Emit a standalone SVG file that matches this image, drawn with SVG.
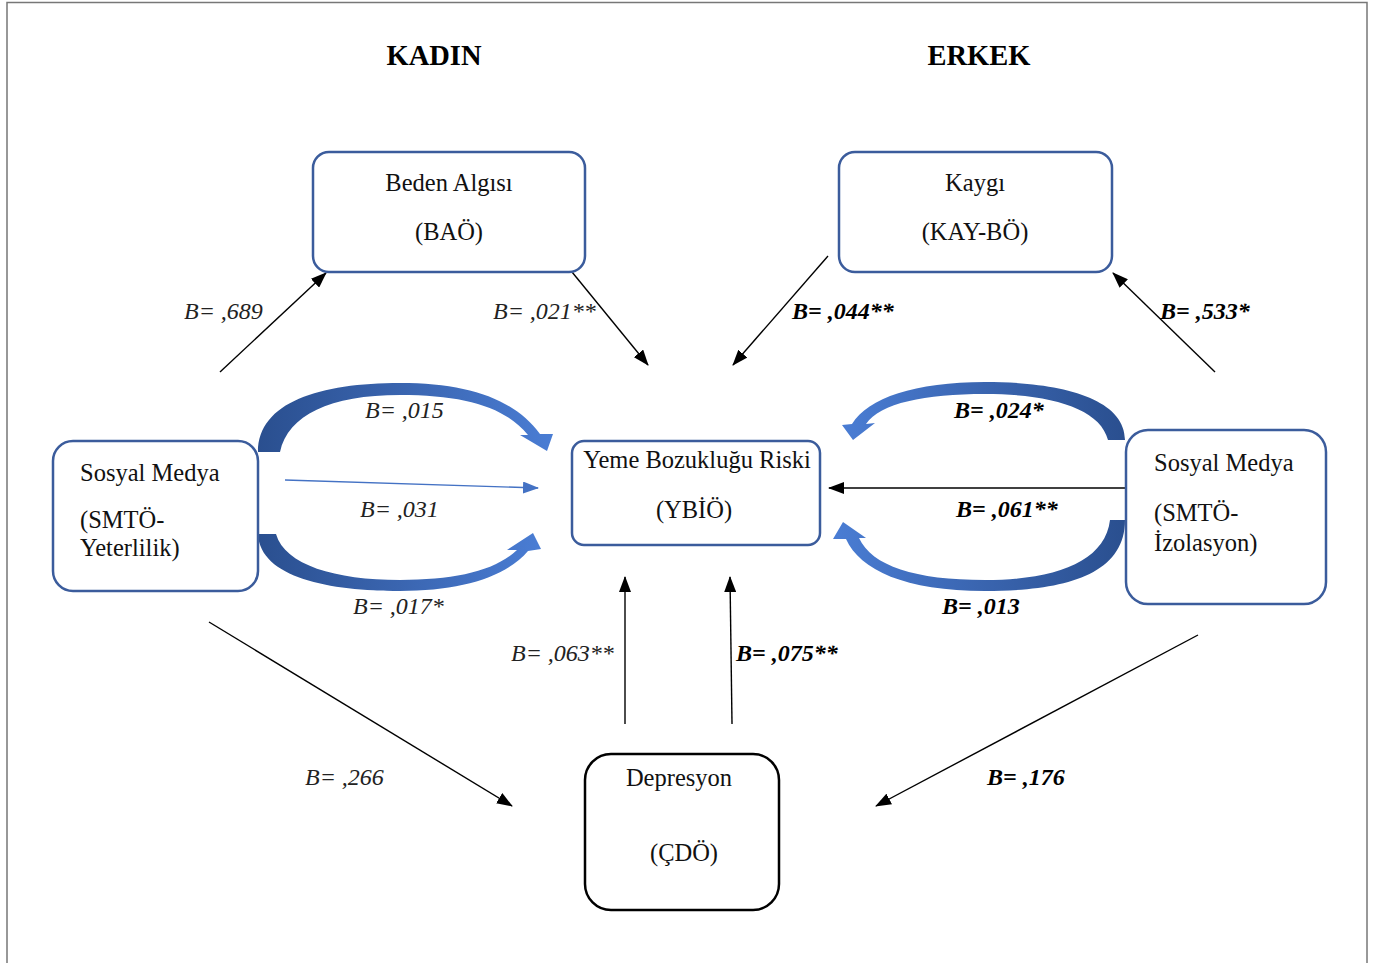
<svg xmlns="http://www.w3.org/2000/svg" width="1373" height="963" viewBox="0 0 1373 963">
<style>
.box{fill:#fff;stroke:#3B5C9C;stroke-width:2.5}
.dbox{fill:#fff;stroke:#000;stroke-width:2.5}
.t{font-family:"Liberation Serif",serif;font-size:24.5px;fill:#111}
.c{text-anchor:middle}
.lab{font-family:"Liberation Serif",serif;font-size:24px;font-style:italic;fill:#222}
.b{font-weight:bold;fill:#000}
.h{font-family:"Liberation Serif",serif;font-size:28.5px;font-weight:bold;fill:#000;text-anchor:middle}
.ln{stroke:#000;stroke-width:1.4;fill:none;marker-end:url(#ah)}
</style>
<defs>
<marker id="ah" markerUnits="userSpaceOnUse" markerWidth="16" markerHeight="12" refX="15" refY="6" orient="auto"><path d="M0,0 L16,6 L0,12 Z" fill="#000"/></marker>
<marker id="bh" markerUnits="userSpaceOnUse" markerWidth="16" markerHeight="12" refX="15" refY="6" orient="auto"><path d="M0,0 L16,6 L0,12 Z" fill="#4472C4"/></marker>
<linearGradient id="gL" x1="0" y1="0" x2="1" y2="0"><stop offset="0" stop-color="#2A4F8F"/><stop offset="0.5" stop-color="#3A65B0"/><stop offset="1" stop-color="#4A7DD4"/></linearGradient>
<linearGradient id="gR" x1="1" y1="0" x2="0" y2="0"><stop offset="0" stop-color="#2A4F8F"/><stop offset="0.5" stop-color="#3A65B0"/><stop offset="1" stop-color="#4A7DD4"/></linearGradient>
</defs>
<rect x="7" y="2.5" width="1360" height="970" fill="#fff" stroke="#777" stroke-width="1.5"/>
<text class="h" x="434" y="65">KADIN</text>
<text class="h" x="979" y="65">ERKEK</text>

<g id="connectors">
<line class="ln" x1="220" y1="372" x2="326" y2="273"/>
<line class="ln" x1="572" y1="272" x2="648" y2="365"/>
<line class="ln" x1="828" y1="256" x2="733" y2="365"/>
<line class="ln" x1="1215" y1="372" x2="1113" y2="273"/>
<line class="ln" x1="1126" y1="488" x2="829" y2="488"/>
<line class="ln" x1="625" y1="724" x2="625" y2="577"/>
<line class="ln" x1="732" y1="724" x2="730" y2="577"/>
<line class="ln" x1="209" y1="622" x2="512" y2="806"/>
<line class="ln" x1="1198" y1="635" x2="876" y2="806"/>
<line x1="285" y1="480" x2="538" y2="488" stroke="#4472C4" stroke-width="1.4" marker-end="url(#bh)"/>
<path fill="url(#gL)" d="M258,452 C 258,402 320,383 400,383 C 470,383 515,400 540,434 L 553,434 L 547,451 L 520,435 L 528,435 C 505,407 465,395 400,395 C 330,395 288,415 280,452 Z"/>
<path fill="url(#gL)" d="M258,534 C 260,578 330,591 400,591 C 460,591 505,578 528,551 L 541,549 L 533,533 L 507,550 L 517,550 C 495,571 455,580 400,580 C 335,580 285,565 276,534 Z"/>
<path fill="url(#gR)" d="M1125,440 C 1125,398 1060,382 985,382 C 915,382 868,398 852,424 L 842,425 L 853,440 L 875,423 L 866,424 C 880,403 925,394 985,394 C 1050,394 1100,408 1108,440 Z"/>
<path fill="url(#gR)" d="M1125,520 C 1125,577 1060,591 985,591 C 905,591 860,570 846,539 L 833,539 L 843,522 L 866,538 L 859,538 C 872,566 915,580 985,580 C 1055,580 1105,562 1110,520 Z"/>
</g>

<g id="labels">
<text class="lab" x="184" y="319">B= ,689</text>
<text class="lab" x="493" y="319">B= ,021**</text>
<text class="lab b" x="792" y="319">B= ,044**</text>
<text class="lab b" x="1160" y="319">B= ,533*</text>
<text class="lab" x="365" y="418">B= ,015</text>
<text class="lab" x="360" y="517">B= ,031</text>
<text class="lab" x="353" y="614">B= ,017*</text>
<text class="lab b" x="954" y="418">B= ,024*</text>
<text class="lab b" x="956" y="517">B= ,061**</text>
<text class="lab b" x="942" y="614">B= ,013</text>
<text class="lab" x="511" y="661">B= ,063**</text>
<text class="lab b" x="736" y="661">B= ,075**</text>
<text class="lab" x="305" y="785">B= ,266</text>
<text class="lab b" x="987" y="785">B= ,176</text>
</g>

<g id="beden">
<rect class="box" x="313" y="152" width="272" height="120" rx="16"/>
<text class="t c" x="449" y="191">Beden Algısı</text>
<text class="t c" x="449" y="240">(BAÖ)</text>
</g>
<g id="kaygi">
<rect class="box" x="839" y="152" width="273" height="120" rx="16"/>
<text class="t c" x="975" y="191">Kaygı</text>
<text class="t c" x="975" y="240">(KAY-BÖ)</text>
</g>
<g id="sosyal-kadin">
<rect class="box" x="53" y="441" width="205" height="150" rx="20"/>
<text class="t" x="80" y="481">Sosyal Medya</text>
<text class="t" x="80" y="528">(SMTÖ-</text>
<text class="t" x="80" y="556">Yeterlilik)</text>
</g>
<g id="yeme">
<rect class="box" x="572" y="441" width="248" height="104" rx="12"/>
<text class="t c" x="697" y="468">Yeme Bozukluğu Riski</text>
<text class="t c" x="694" y="518">(YBİÖ)</text>
</g>
<g id="sosyal-erkek">
<rect class="box" x="1126" y="430" width="200" height="174" rx="22"/>
<text class="t" x="1154" y="471">Sosyal Medya</text>
<text class="t" x="1154" y="521">(SMTÖ-</text>
<text class="t" x="1154" y="551">İzolasyon)</text>
</g>
<g id="depresyon">
<rect class="dbox" x="585" y="754" width="194" height="156" rx="26"/>
<text class="t c" x="679" y="786">Depresyon</text>
<text class="t c" x="684" y="861">(ÇDÖ)</text>
</g>
</svg>
